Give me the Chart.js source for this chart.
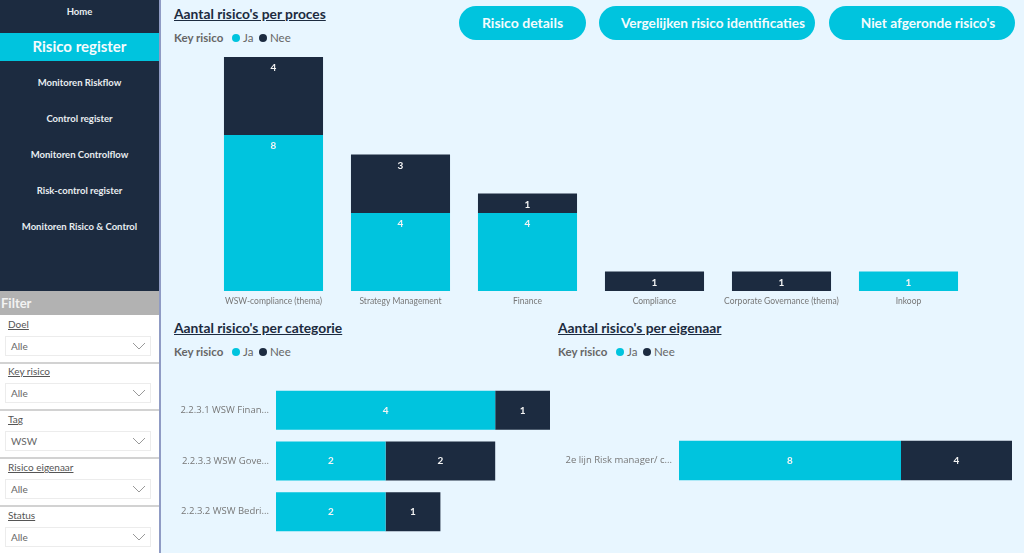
<!DOCTYPE html>
<html lang="nl">
<head>
    <meta charset="UTF-8">
    <title>Risico register</title>
    <script src="https://cdn.jsdelivr.net/npm/chart.js"></script>
    <style>
        html, body { margin: 0; padding: 0; }
        body { width: 1024px; height: 553px; position: relative; overflow: hidden; background: #e8f6ff; font-family: Lato, sans-serif; }
        div, canvas, span { position: absolute; white-space: nowrap; }
        #sidebar { left: 0; top: 0; width: 159px; height: 291px; background: #1c2b40; }
        #sideline { left: 159px; top: 0; width: 2px; height: 553px; background: #8f9bc4; }
        .nav { left: 0; width: 159px; text-align: center; color: #e8edf0; font-size: 9.5px; font-weight: 700; line-height: 14px; }
        #active { left: 0; top: 33px; width: 159px; height: 28px; line-height: 27px; background: #00c4de; color: #f4fbfd; text-align: center; font-size: 15px; font-weight: 700; }
        #filterhead { left: 0; top: 291px; width: 159px; height: 24px; line-height: 24px; background: #b2b2b2; color: #f2f2f2; font-size: 13px; font-weight: 700; text-indent: 1px; }
        #filterbody { left: 0; top: 315px; width: 159px; height: 238px; background: #fff; }
        .sep { left: 0; width: 159px; height: 2px; background: #d2d2d2; }
        .flabel { left: 8px; color: #555; font-size: 10px; text-decoration: underline; line-height: 12px; }
        .fbox { left: 5px; width: 144px; height: 18px; border: 1px solid #ececec; color: #666; font-size: 10px; line-height: 18px; text-indent: 5px; background: #fff; }
        .chev { right: 4px; top: 5px; width: 14px; height: 8px; }
        .btn { top: 6px; height: 34px; line-height: 34px; border-radius: 17px; background: #00c4de; color: #f4fbfd; font-size: 13.6px; font-weight: 700; text-align: center; box-sizing: border-box; }
        .title { color: #1c2b40; font-size: 13.8px; font-weight: 700; text-decoration: underline; line-height: 16px; }
        .legend { color: #666; font-size: 11.5px; line-height: 14px; height: 14px; width: 130px; }
        .legend b { position: absolute; left: 0; top: 0; }
        .legend i { position: absolute; top: 3px; width: 8px; height: 8px; border-radius: 50%; }
        .legend span { top: 0; }
    </style>
</head>
<body>
    <div id="sidebar"></div>
    <div id="sideline"></div>
    <div class="nav" style="top:5px">Home</div>
    <div id="active">Risico register</div>
    <div class="nav" style="top:76px">Monitoren Riskflow</div>
    <div class="nav" style="top:112px">Control register</div>
    <div class="nav" style="top:148px">Monitoren Controlflow</div>
    <div class="nav" style="top:184px">Risk-control register</div>
    <div class="nav" style="top:220px">Monitoren Risico &amp; Control</div>

    <div id="filterbody"></div>
    <div id="filterhead">Filter</div>
    <div id="slicers"></div>

    <div class="btn" style="left:459px;width:127px;font-size:14px">Risico details</div>
    <div class="btn" style="left:599px;width:216px;padding-left:12px">Vergelijken risico identificaties</div>
    <div class="btn" style="left:829px;width:186px;padding-left:12px">Niet afgeronde risico's</div>

    <div class="title" style="left:174px;top:6px">Aantal risico's per proces</div>
    <div class="title" style="left:174px;top:320px">Aantal risico's per categorie</div>
    <div class="title" style="left:558px;top:320px">Aantal risico's per eigenaar</div>

    <div class="legend" style="left:174px;top:31px"><b>Key risico</b><i style="left:58px;background:#00c4de"></i><span style="left:69px">Ja</span><i style="left:85px;background:#1c2b40"></i><span style="left:96px">Nee</span></div>
    <div class="legend" style="left:174px;top:345px"><b>Key risico</b><i style="left:58px;background:#00c4de"></i><span style="left:69px">Ja</span><i style="left:85px;background:#1c2b40"></i><span style="left:96px">Nee</span></div>
    <div class="legend" style="left:558px;top:345px"><b>Key risico</b><i style="left:58px;background:#00c4de"></i><span style="left:69px">Ja</span><i style="left:85px;background:#1c2b40"></i><span style="left:96px">Nee</span></div>

    <canvas id="procesChart" width="762" height="250" style="left:210px;top:57px"></canvas>
    <canvas id="categorieChart" width="374" height="152" style="left:176px;top:385px"></canvas>
    <canvas id="eigenaarChart" width="452" height="151" style="left:560px;top:385px"></canvas>

    <script>
        const procesLabels = ['WSW-compliance (thema)', 'Strategy Management', 'Finance', 'Compliance', 'Corporate Governance (thema)', 'Inkoop'];
        const procesJa = [8, 4, 4, null, null, 1];
        const procesNee = [4, 3, 1, 1, 1, null];

        const categorieLabels = ['2.2.3.1 WSW Finan...', '2.2.3.3 WSW Gove...', '2.2.3.2 WSW Bedri...'];
        const categorieJa = [4, 2, 2];
        const categorieNee = [1, 2, 1];

        const eigenaarLabels = ['2e lijn Risk manager/ c...'];
        const eigenaarJa = [8];
        const eigenaarNee = [4];

        const slicerNames = ['Doel', 'Key risico', 'Tag', 'Risico eigenaar', 'Status'];
        const slicerValues = ['Alle', 'Alle', 'WSW', 'Alle', 'Alle'];
        const slicerTops = [319, 366, 414, 462, 510];

        const TEAL = '#00c4de';
        const NAVY = '#1c2b40';

        function buildSlicers() {
            let html = '';
            slicerNames.forEach((name, i) => {
                const top = slicerTops[i];
                html += `<div class="flabel" style="top:${top - 1}px">${name}</div>`;
                html += `<div class="fbox" style="top:${top + 17}px">${slicerValues[i]}` +
                    `<svg class="chev" style="position:absolute" viewBox="0 0 14 8"><path d="M1 1 L7 7 L13 1" fill="none" stroke="#999" stroke-width="1"/></svg></div>`;
                if (i < slicerNames.length - 1) {
                    html += `<div class="sep" style="top:${top + 43}px"></div>`;
                }
            });
            document.getElementById('slicers').innerHTML = html;
        }

        // draws the value on each bar segment
        const valueLabels = {
            id: 'valueLabels',
            afterDatasetsDraw(chart, args, opts) {
                const ctx = chart.ctx;
                ctx.save();
                ctx.fillStyle = '#f4f4f4';
                ctx.font = '700 10px Lato';
                ctx.textAlign = 'center';
                ctx.textBaseline = 'middle';
                chart.data.datasets.forEach((ds, d) => {
                    chart.getDatasetMeta(d).data.forEach((bar, i) => {
                        if (ds.data[i] === null) return;
                        const p = bar.getProps(['x', 'y', 'base']);
                        if (opts.top) {
                            ctx.fillText(ds.data[i], p.x, p.y + 11);
                        } else {
                            ctx.fillText(ds.data[i], (p.x + p.base) / 2, p.y);
                        }
                    });
                });
                ctx.restore();
            }
        };

        function createChart(id, labels, ja, nee, cfg) {
            const horizontal = cfg.horizontal;
            const catAxis = {
                stacked: true,
                grid: { display: false, drawTicks: false },
                border: { display: false },
                ticks: {
                    autoSkip: false,
                    maxRotation: 0,
                    padding: cfg.tickPadding,
                    color: '#777',
                    font: { family: cfg.tickFamily, size: cfg.tickSize }
                },
                afterFit(axis) {
                    // the reference's plot area runs right up to the axis ends
                    if (horizontal) {
                        axis.width = cfg.axisSize;
                        axis.paddingTop = 0;
                        axis.paddingBottom = 0;
                    } else {
                        axis.height = cfg.axisSize;
                    }
                }
            };
            const valAxis = { display: false, stacked: true, min: 0, max: cfg.max };

            return new Chart(document.getElementById(id), {
                type: 'bar',
                data: {
                    labels: labels,
                    datasets: [
                        { label: 'Ja', data: ja, backgroundColor: TEAL, barPercentage: cfg.barPct, categoryPercentage: 1 },
                        { label: 'Nee', data: nee, backgroundColor: NAVY, barPercentage: cfg.barPct, categoryPercentage: 1 }
                    ]
                },
                options: {
                    indexAxis: horizontal ? 'y' : 'x',
                    responsive: false,
                    animation: false,
                    layout: { padding: 0 },
                    plugins: {
                        legend: { display: false },
                        tooltip: { enabled: false },
                        valueLabels: { top: !horizontal }
                    },
                    scales: horizontal ? { x: valAxis, y: catAxis } : { x: catAxis, y: valAxis }
                },
                plugins: [valueLabels]
            });
        }

        window.onload = function () {
            buildSlicers();
            createChart('procesChart', procesLabels, procesJa, procesNee, {
                horizontal: false, max: 12, barPct: 0.78, axisSize: 16, tickPadding: 5, tickFamily: 'Lato', tickSize: 8.5
            });
            createChart('categorieChart', categorieLabels, categorieJa, categorieNee, {
                horizontal: true, max: 5, barPct: 0.77, axisSize: 100, tickPadding: 7, tickFamily: 'Open Sans', tickSize: 9.5
            });
            createChart('eigenaarChart', eigenaarLabels, eigenaarJa, eigenaarNee, {
                horizontal: true, max: 12, barPct: 0.26, axisSize: 119, tickPadding: 7, tickFamily: 'Open Sans', tickSize: 9.5
            });
        };
    </script>
</body>
</html>
